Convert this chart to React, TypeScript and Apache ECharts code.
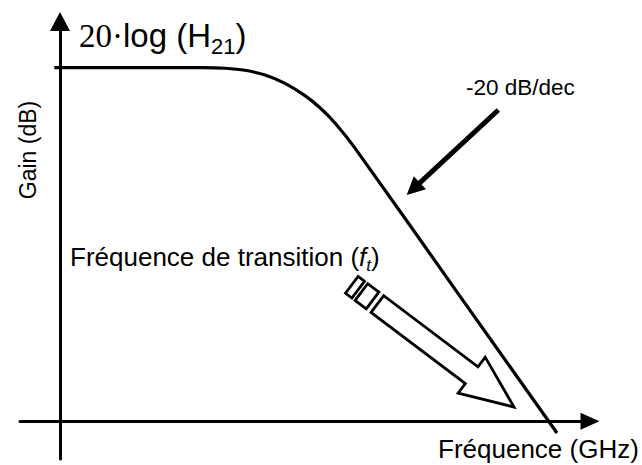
import React, { useEffect, useRef } from 'react';
import * as echarts from 'echarts';

// Gain curve (x: log-frequency units, y: gain units)
const curveX = [-0.57, 14.3, 16.5, 18.5, 20.5, 22.5, 24.5, 26.0, 27.5, 29.5, 39.6, 49.7];
const curveY = [39.8, 39.8, 39.74, 39.51, 38.97, 38.04, 36.66, 35.29, 33.57, 30.74, 14.71, -1.32];

// Axis ranges
const X_RANGE = [-4, 53];
const Y_RANGE = [-4.25, 45];

// "-20 dB/dec" pointer (start, arrow-head centre)
const slopeArrowFrom = [43.83, 35.04];
const slopeArrowTo = [35.33, 26.16];

// Hollow striped arrow (tip x, tip y, tail x, tail y)
const transitionArrow = [[45.4, 1.6, 29.18, 15.36]];

// Texts
const titleMain = '20·';
const titleLog = 'log (H';
const titleSub = '21';
const yName = 'Gain (dB)';
const xName = 'Fréquence (GHz)';
const slopeLabel = '-20 dB/dec';
const transitionLabel = 'Fréquence de transition (';
const transitionVar = 'f';
const transitionSub = 't';

const SANS = '"Liberation Sans", Arial, sans-serif';
const SERIF = '"Liberation Serif", "Times New Roman", serif';

export default function App() {
  const ref = useRef<HTMLDivElement>(null);
  useEffect(() => {
    const chart = echarts.init(ref.current!, null, { renderer: 'svg' });
    const curve = curveX.map((x, i) => [x, curveY[i]]);
    const axisCommon = {
      axisTick: { show: false },
      axisLabel: { show: false },
      splitLine: { show: false },
    };
    const option: any = {
      animation: false,
      backgroundColor: '#fff',
      grid: { left: 20, right: 52, top: 21.5, bottom: 6, outerBoundsMode: 'none', containLabel: false },
      xAxis: {
        type: 'value', min: X_RANGE[0], max: X_RANGE[1], ...axisCommon,
        axisLine: { show: true, onZero: true, symbol: ['none', 'triangle'], symbolSize: [17, 19], lineStyle: { color: '#000', width: 3 } },
      },
      yAxis: {
        type: 'value', min: Y_RANGE[0], max: Y_RANGE[1], ...axisCommon,
        axisLine: { show: true, onZero: true, symbol: ['none', 'triangle'], symbolSize: [20, 19], lineStyle: { color: '#000', width: 3 } },
      },
      series: [
        {
          type: 'line',
          data: curve,
          symbol: 'none',
          smooth: 0.3,
          clip: false,
          lineStyle: { color: '#000', width: 3.2 },
          markLine: {
            silent: true,
            animation: false,
            symbol: ['none', 'triangle'],
            symbolSize: [18, 18],
            label: { show: false },
            lineStyle: { color: '#000', width: 5, type: 'solid' },
            itemStyle: { color: '#000' },
            data: [[{ coord: slopeArrowFrom }, { coord: slopeArrowTo }]],
          },
        },
        {
          type: 'custom',
          data: transitionArrow,
          encode: { x: [0, 2], y: [1, 3] },
          clip: false,
          renderItem: (params: any, api: any) => {
            const tip = api.coord([api.value(0), api.value(1)]);
            const tail = api.coord([api.value(2), api.value(3)]);
            const dx = tip[0] - tail[0];
            const dy = tip[1] - tail[1];
            const len = Math.hypot(dx, dy);
            const ux = dx / len, uy = dy / len;
            const vx = -uy, vy = ux;
            const P = (s: number, t: number) => [tip[0] - ux * s + vx * t, tip[1] - uy * s + vy * t];
            const headLen = 53, headHalf = 22.5, shaftHalf = 10.5, shaftEnd = len - 32;
            const style = { fill: '#fff', stroke: '#000', lineWidth: 2.8, lineJoin: 'miter' };
            const rect = (a: number, b: number) => ({
              type: 'polygon',
              shape: { points: [P(a, shaftHalf), P(b, shaftHalf), P(b, -shaftHalf), P(a, -shaftHalf)] },
              style,
            });
            return {
              type: 'group',
              children: [
                {
                  type: 'polygon',
                  shape: {
                    points: [
                      P(0, 0), P(headLen, headHalf), P(headLen, shaftHalf), P(shaftEnd, shaftHalf),
                      P(shaftEnd, -shaftHalf), P(headLen, -shaftHalf), P(headLen, -headHalf),
                    ],
                  },
                  style,
                },
                rect(len - 26, len - 12),
                rect(len - 8, len),
              ],
            };
          },
        },
      ],
      graphic: [
        {
          type: 'text', x: 79, y: 13.8, silent: true,
          style: {
            text: `{a|${titleMain}}{b|${titleLog}}{c|${titleSub}}{b|)}`,
            textVerticalAlign: 'top',
            rich: {
              a: { fontFamily: SERIF, fontSize: 33, fill: '#000' },
              b: { fontFamily: SANS, fontSize: 33, fill: '#000' },
              c: { fontFamily: SANS, fontSize: 22, fill: '#000', padding: [21.6, 0, 0, 0] },
            },
          },
        },
        {
          type: 'text', x: 70, y: 240.4, silent: true,
          style: {
            text: `{n|${transitionLabel}}{i|${transitionVar}}{s|${transitionSub}}{n|)}`,
            textVerticalAlign: 'top',
            rich: {
              n: { fontFamily: SANS, fontSize: 26, fill: '#000' },
              i: { fontFamily: SANS, fontSize: 26, fontStyle: 'italic', fill: '#000' },
              s: { fontFamily: SANS, fontSize: 17, fontStyle: 'italic', fill: '#000', padding: [16.2, 0, 0, 0] },
            },
          },
        },
        {
          type: 'text', x: 466, y: 87.4, silent: true,
          style: { text: slopeLabel, fontFamily: SANS, fontSize: 22.5, fill: '#000', textVerticalAlign: 'middle' },
        },
        {
          type: 'text', x: 438, y: 449, silent: true,
          style: { text: xName, fontFamily: SANS, fontSize: 26, fill: '#000', textVerticalAlign: 'middle' },
        },
        {
          type: 'text', x: 28, y: 150, rotation: Math.PI / 2, silent: true,
          style: { text: yName, fontFamily: SANS, fontSize: 23, fill: '#000', textAlign: 'center', textVerticalAlign: 'middle' },
        },
      ],
    };
    chart.setOption(option);
    return () => chart.dispose();
  }, []);
  return (
    <div
      ref={ref}
      style={{ position: 'fixed', left: 0, top: 0, width: 642, height: 465, background: '#fff' }}
    />
  );
}
